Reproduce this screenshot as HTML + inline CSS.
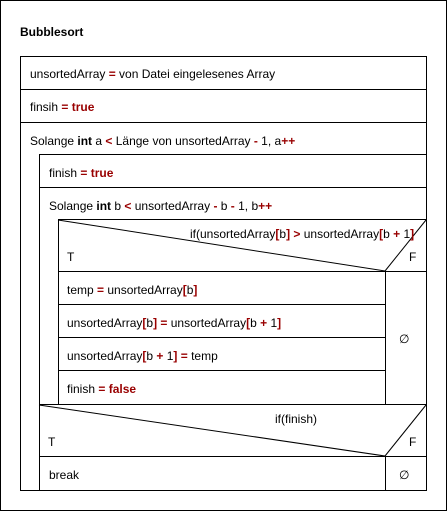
<!DOCTYPE html>
<html><head><style>
html,body{margin:0;padding:0;background:#fff}
svg{display:block}
text{font-family:"Liberation Sans",Arial,sans-serif;font-size:12px;fill:#000}
.r{fill:#990000;font-weight:bold}
.b{font-weight:bold}
</style></head><body>
<svg width="447" height="511" viewBox="0 0 447 511" xmlns="http://www.w3.org/2000/svg">
<g fill="none" stroke="#000" stroke-width="1" shape-rendering="crispEdges">
<rect x="0.5" y="0.5" width="446" height="510"/>
<rect x="20.5" y="56.5" width="406" height="434"/>
<line x1="20" y1="89.5" x2="427" y2="89.5"/>
<line x1="20" y1="122.5" x2="427" y2="122.5"/>
<line x1="39.5" y1="154" x2="39.5" y2="491"/>
<line x1="39" y1="154.5" x2="427" y2="154.5"/>
<line x1="39" y1="187.5" x2="427" y2="187.5"/>
<line x1="58.5" y1="219" x2="58.5" y2="404"/>
<line x1="58" y1="219.5" x2="427" y2="219.5"/>
<line x1="58" y1="271.5" x2="427" y2="271.5"/>
<line x1="385.5" y1="271" x2="385.5" y2="404"/>
<line x1="58" y1="304.5" x2="386" y2="304.5"/>
<line x1="58" y1="337.5" x2="386" y2="337.5"/>
<line x1="58" y1="370.5" x2="386" y2="370.5"/>
<line x1="39" y1="404.5" x2="427" y2="404.5"/>
<line x1="39" y1="456.5" x2="427" y2="456.5"/>
<line x1="385.5" y1="456" x2="385.5" y2="491"/>
</g>
<g fill="none" stroke="#000" stroke-width="1">
<line x1="58" y1="220" x2="385" y2="271"/>
<line x1="385" y1="271" x2="426" y2="220"/>
<line x1="39" y1="405" x2="385" y2="456"/>
<line x1="385" y1="456" x2="426" y2="405"/>
</g>
<text x="20" y="36" class="b">Bubblesort</text>
<text x="30" y="78">unsortedArray <tspan class="r">=</tspan> von Datei eingelesenes Array</text>
<text x="30" y="111">finsih <tspan class="r">= true</tspan></text>
<text x="30" y="145">Solange <tspan class="b">int</tspan> a <tspan class="r">&lt;</tspan> Länge von unsortedArray <tspan class="r">-</tspan> 1, a<tspan class="r">++</tspan></text>
<text x="49" y="177">finish <tspan class="r">= true</tspan></text>
<text x="49" y="210">Solange <tspan class="b">int</tspan> b <tspan class="r">&lt;</tspan> unsortedArray <tspan class="r">-</tspan> b <tspan class="r">-</tspan> 1, b<tspan class="r">++</tspan></text>
<text x="190" y="238">if(unsortedArray<tspan class="r">[</tspan>b<tspan class="r">] &gt;</tspan> unsortedArray<tspan class="r">[</tspan>b <tspan class="r">+</tspan> 1<tspan class="r">]</tspan></text>
<text x="67" y="261">T</text>
<text x="409" y="261">F</text>
<text x="67" y="294">temp <tspan class="r">=</tspan> unsortedArray<tspan class="r">[</tspan>b<tspan class="r">]</tspan></text>
<text x="67" y="327">unsortedArray<tspan class="r">[</tspan>b<tspan class="r">] =</tspan> unsortedArray<tspan class="r">[</tspan>b <tspan class="r">+</tspan> 1<tspan class="r">]</tspan></text>
<text x="67" y="360">unsortedArray<tspan class="r">[</tspan>b <tspan class="r">+</tspan> 1<tspan class="r">] =</tspan> temp</text>
<text x="67" y="393">finish <tspan class="r">= false</tspan></text>
<text x="399" y="343">∅</text>
<text x="275" y="423">if(finish)</text>
<text x="48" y="446">T</text>
<text x="409" y="446">F</text>
<text x="49" y="479">break</text>
<text x="399" y="479">∅</text>
</svg>
</body></html>
